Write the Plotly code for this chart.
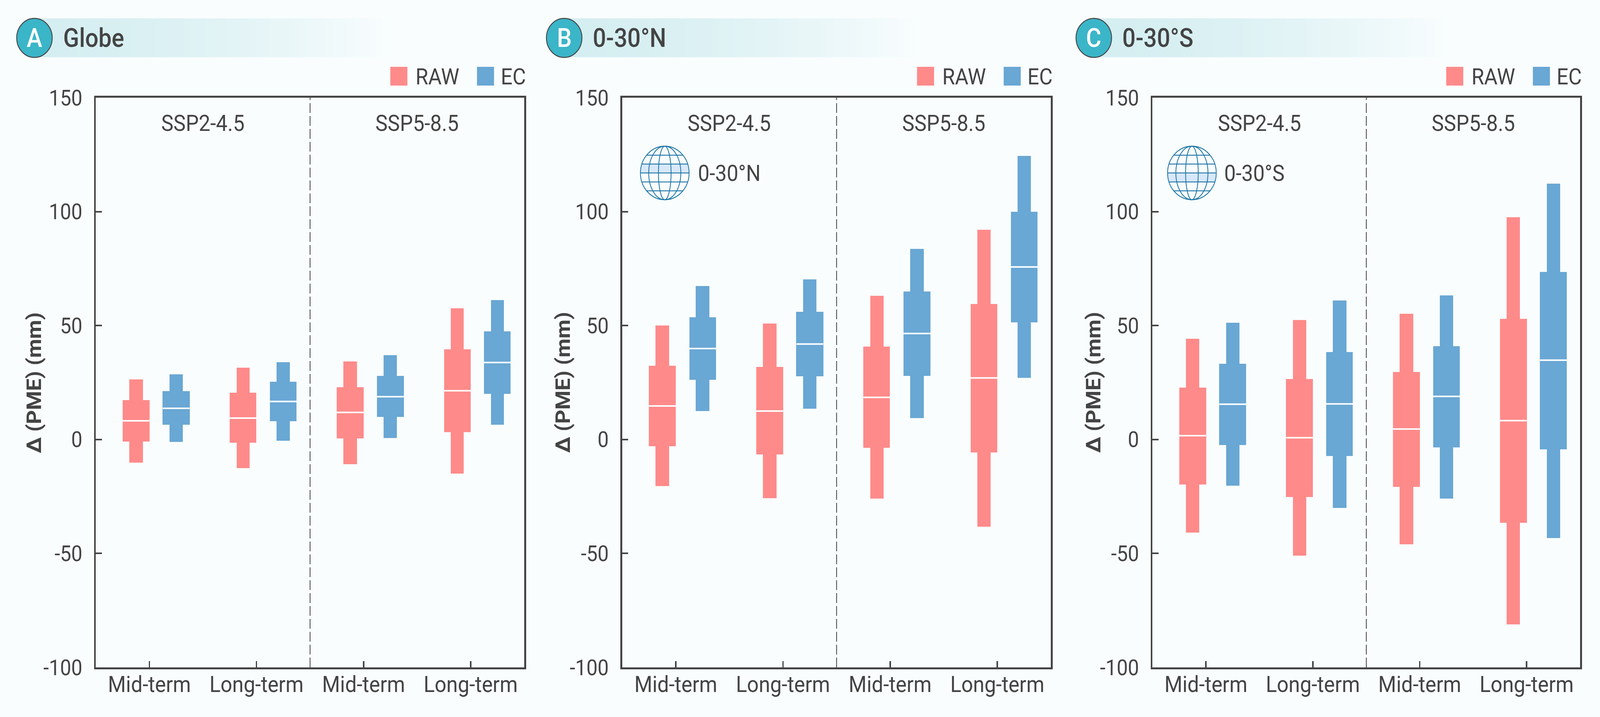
import numpy as np
import plotly.graph_objects as go

W, H = 4505, 1835

categories = ["Mid-term", "Long-term", "Mid-term", "Long-term"]
y_ticks = [-100, -50, 0, 50, 100, 150]
scenarios = ["SSP2-4.5", "SSP5-8.5"]
panel_letters = ["A", "B", "C"]
panel_titles = ["Globe", "0-30°N", "0-30°S"]
series_names = ["RAW", "EC"]
y_title = "Δ (PME) (mm)"

# each row: high, upper, median, lower, low
globe_raw = [[26.4, 17.3, 8.2, -0.9, -10.1], [31.5, 20.6, 9.4, -1.4, -12.5],
             [34.3, 23.0, 11.9, 0.5, -10.8], [57.5, 39.5, 21.4, 3.2, -14.9]]
globe_ec = [[28.6, 21.2, 13.7, 6.4, -1.0], [34.0, 25.4, 16.7, 8.1, -0.5],
            [37.0, 28.0, 18.8, 9.9, 0.7], [61.2, 47.5, 33.8, 20.0, 6.4]]
north_raw = [[50.0, 32.4, 14.7, -2.9, -20.5], [50.9, 31.8, 12.5, -6.6, -25.8],
             [63.1, 40.8, 18.5, -3.7, -26.0], [92.0, 59.4, 27.0, -5.7, -38.2]]
north_ec = [[67.3, 53.6, 39.9, 26.2, 12.5], [70.2, 56.0, 41.9, 27.7, 13.5],
            [83.6, 65.0, 46.5, 27.9, 9.4], [124.5, 100.0, 75.7, 51.4, 27.0]]
south_raw = [[44.2, 22.8, 1.7, -19.7, -40.8], [52.5, 26.6, 0.8, -25.2, -50.9],
             [55.1, 29.7, 4.6, -20.7, -46.0], [97.6, 52.9, 8.3, -36.6, -81.2]]
south_ec = [[51.2, 33.3, 15.5, -2.4, -20.2], [61.0, 38.3, 15.6, -7.3, -30.0],
            [63.3, 41.0, 18.9, -3.5, -25.9], [112.3, 73.5, 34.8, -4.3, -43.2]]

panel_data = [(globe_raw, globe_ec), (north_raw, north_ec), (south_raw, south_ec)]

BG = "#F9FDFE"
RED = "#FF8A8A"
BLUE = "#69A7D4"
DARK = "#444444"
TEAL = "#3BB5C8"
BAND = (213, 238, 241)
BGRGB = (249, 253, 254)
GLOBE = "#1A73A5"
GLOBE_FILL = "#D8E8FB"
FONT = "Roboto"
TXT = 58

# pixel layout of the panels
P_LEFT = [270, 1752, 3245]
P_RIGHT = [1476, 2959, 4449]
P_TOP, P_BOT = 250, 1708
CIRCLE_X = [97, 1588.5, 3079.7]
TITLE_X = [176, 1667, 3158]
YTITLE_X = [96, 1586, 3079]


def px(x):
    return x / W


def py(y):
    return 1 - y / H


fig = go.Figure()
shapes, annots = [], []


def rect(x0, y0, x1, y1, fill):
    return dict(type="rect", xref="paper", yref="paper", x0=px(x0), x1=px(x1),
                y0=py(y1), y1=py(y0), fillcolor=fill, line=dict(width=0), layer="below")


def ellipse(cx, cy, rx, ry, color, lw, fill=None):
    return dict(type="circle", xref="paper", yref="paper", x0=px(cx - rx), x1=px(cx + rx),
                y0=py(cy + ry), y1=py(cy - ry), line=dict(color=color, width=lw),
                fillcolor=fill if fill else "rgba(0,0,0,0)", layer="above")


def text(x, y, s, size=TXT, color=DARK, weight=400, xanchor="left"):
    return dict(xref="paper", yref="paper", x=px(x), y=py(y), text=s, showarrow=False,
                xanchor=xanchor, yanchor="middle",
                font=dict(family=FONT, size=size, color=color, weight=weight))


def globe(cx, cy, r, north):
    step = r / 3
    hw1 = np.sqrt(r**2 - step**2)
    far = cy + (-step if north else step)
    path = (f"M {px(cx - r)} {py(cy)} L {px(cx + r)} {py(cy)} "
            f"L {px(cx + hw1)} {py(far)} L {px(cx - hw1)} {py(far)} Z")
    out = [dict(type="path", path=path, xref="paper", yref="paper",
                fillcolor=GLOBE_FILL, line=dict(width=0), layer="above")]
    for rx in (r, r * 0.66, r * 0.26):
        out.append(ellipse(cx, cy, rx, r, GLOBE, 2.2))
    for k in (-2, -1, 0, 1, 2):
        yy = cy + k * step
        hw = np.sqrt(r**2 - (k * step) ** 2)
        out.append(dict(type="line", xref="paper", yref="paper", x0=px(cx - hw), x1=px(cx + hw),
                        y0=py(yy), y1=py(yy), line=dict(color=GLOBE, width=2.2), layer="above"))
    return out


layout_axes = {}
for p in range(3):
    suffix = "" if p == 0 else str(p + 1)
    xname, yname = "x" + suffix, "y" + suffix
    raw, ec = panel_data[p]
    for rows, name, color, off in ((raw, series_names[0], RED, -0.125), (ec, series_names[1], BLUE, 0.25)):
        rows = np.array(rows)
        xs = np.arange(4) + 0.5 + off
        fig.add_trace(go.Bar(x=xs, base=rows[:, 4], y=rows[:, 0] - rows[:, 4], width=0.125,
                             marker=dict(color=color, line=dict(width=0)), name=name,
                             xaxis=xname, yaxis=yname, showlegend=False))
        fig.add_trace(go.Bar(x=xs, base=rows[:, 3], y=rows[:, 1] - rows[:, 3], width=0.25,
                             marker=dict(color=color, line=dict(width=0)), name=name,
                             xaxis=xname, yaxis=yname, showlegend=False))
        mx, my = [], []
        for xc, m in zip(xs, rows[:, 2]):
            mx += [xc - 0.125, xc + 0.125, None]
            my += [m, m, None]
        fig.add_trace(go.Scatter(x=mx, y=my, mode="lines", line=dict(color="white", width=4),
                                 name=name + " median", xaxis=xname, yaxis=yname, showlegend=False))

    layout_axes["xaxis" + suffix] = dict(
        domain=[px(P_LEFT[p]), px(P_RIGHT[p])], range=[0, 4], anchor=yname,
        tickmode="array", tickvals=[0.5, 1.5, 2.5, 3.5], ticktext=categories,
        ticks="inside", ticklen=16, tickwidth=3.5, tickcolor=DARK,
        showline=True, linewidth=4.5, linecolor=DARK, mirror=True, showgrid=False, zeroline=False,
        tickfont=dict(family=FONT, size=TXT, color=DARK), ticklabelstandoff=-11, fixedrange=True)
    layout_axes["yaxis" + suffix] = dict(
        domain=[py(P_BOT), py(P_TOP)], range=[-100, 150], anchor=xname,
        tickmode="array", tickvals=y_ticks, ticktext=[str(v) for v in y_ticks],
        ticks="inside", ticklen=17, tickwidth=4, tickcolor=DARK,
        showline=True, linewidth=4.5, linecolor=DARK, mirror=True, showgrid=False, zeroline=False,
        tickfont=dict(family=FONT, size=56, color=DARK), ticklabelstandoff=22, fixedrange=True)

    annots.append(dict(xref="paper", yref="paper", x=px(YTITLE_X[p]), y=py((P_TOP + P_BOT) / 2),
                       text=y_title, textangle=-90, showarrow=False, xanchor="center", yanchor="middle",
                       font=dict(family=FONT, size=56, color=DARK, weight=700)))

    # divider and scenario labels
    shapes.append(dict(type="line", xref=xname, yref=yname + " domain", x0=2, x1=2, y0=0, y1=1,
                       line=dict(color="#2E2E2E", width=2, dash="25px,8px"), layer="above"))
    for i, s in enumerate(scenarios):
        annots.append(dict(xref=xname, yref=yname, x=1 + 2 * i, y=138.9, text=s, showarrow=False,
                           xanchor="center", yanchor="middle",
                           font=dict(family=FONT, size=TXT, color=DARK)))

    # header band with fading colour
    cx = CIRCLE_X[p]
    n = 50
    x_start, x_end = cx, cx + 1000
    for i in range(n):
        t = i / n
        t2 = min(1.0, t ** 1.6)
        c = tuple(int(round(BAND[j] + (BGRGB[j] - BAND[j]) * t2)) for j in range(3))
        shapes.append(rect(x_start + (x_end - x_start) * i / n, 47,
                           x_start + (x_end - x_start) * (i + 1) / n + 1, 146.5,
                           f"rgb({c[0]},{c[1]},{c[2]})"))
    shapes.append(ellipse(cx, 97, 50, 50, DARK, 2.5, TEAL))
    annots.append(text(cx, 97, panel_letters[p], size=66, color="white", weight=500, xanchor="center"))
    annots.append(text(TITLE_X[p], 97, panel_titles[p], size=66, weight=500))

    # legend
    right = P_RIGHT[p]
    shapes.append(rect(right - 377, 171, right - 329, 219, RED))
    annots.append(text(right - 308, 196, series_names[0]))
    shapes.append(rect(right - 133, 171, right - 85, 219, BLUE))
    annots.append(text(right - 68, 196, series_names[1]))

# globe badges for the two regional panels
shapes += globe(1871.7, 442.7, 68.5, True)
annots.append(text(1963, 443, "0-30°N"))
shapes += globe(3356, 442.7, 68.5, False)
annots.append(text(3445, 443, "0-30°S"))

fig.update_layout(
    width=W, height=H, margin=dict(l=0, r=0, t=0, b=0, autoexpand=False),
    paper_bgcolor=BG, plot_bgcolor=BG, barmode="overlay", bargap=0,
    showlegend=False, shapes=shapes, annotations=annots,
    font=dict(family=FONT, color=DARK), **layout_axes)

# the figure is laid out at its nominal size and fitted to the actual window
FIT = """
var gd = document.getElementById('{plot_id}');
document.documentElement.style.overflow = 'hidden';
document.documentElement.style.background = '%s';
document.body.style.margin = '0';
gd.style.transformOrigin = '0 0';
function fit() {
  gd.style.transform = 'scale(' + window.innerWidth / %d + ',' + window.innerHeight / %d + ')';
}
fit();
window.addEventListener('resize', fit);
""" % (BG, W, H)

fig.write_html("out.html", post_script=FIT, config=dict(displayModeBar=False))
